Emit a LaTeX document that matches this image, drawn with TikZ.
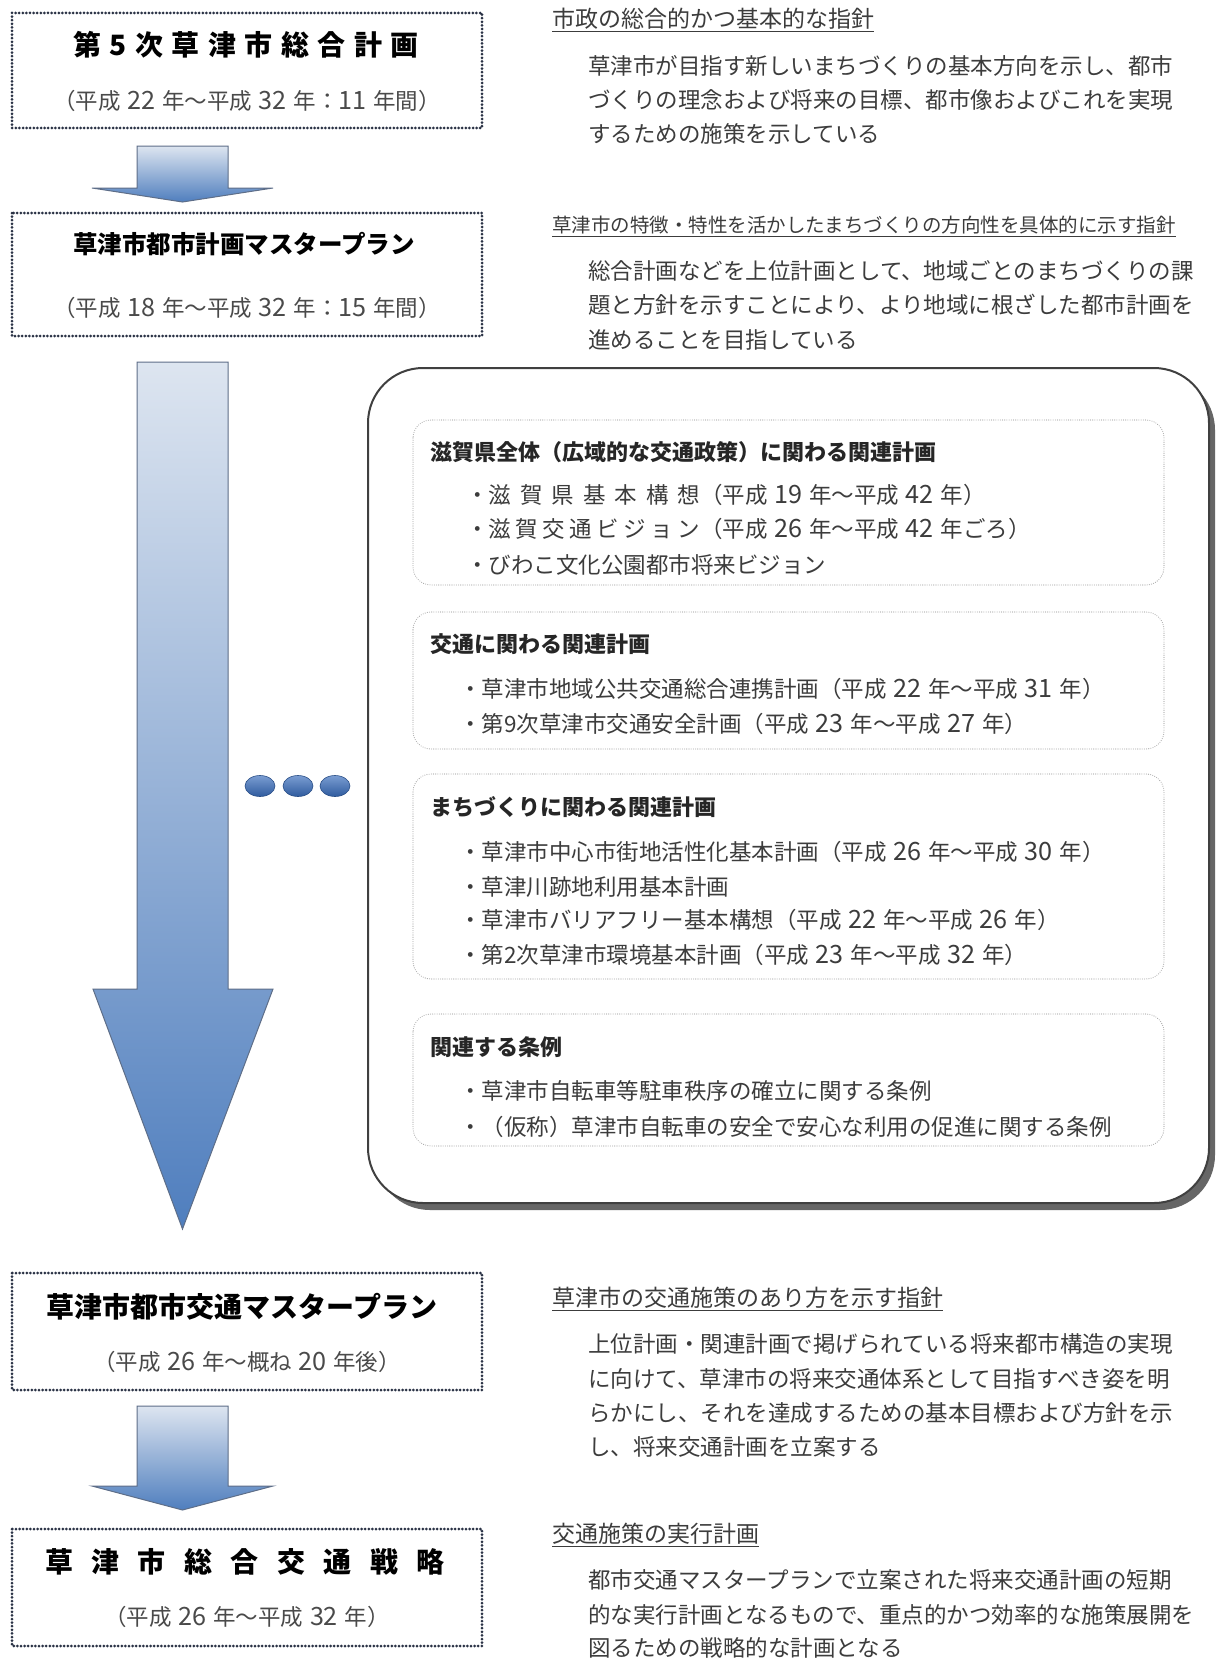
\documentclass[tikz,border=0pt]{standalone}
\usepackage{fontspec}
\usepackage{graphicx}
\setmainfont{Noto Sans CJK JP}
\usetikzlibrary{calc}
\definecolor{txt}{HTML}{3C3C3C}
\definecolor{subc}{HTML}{4A4A4A}
\definecolor{dotc}{HTML}{2A3245}
\definecolor{arrtop}{HTML}{DDE5F0}
\definecolor{arrbot}{HTML}{4F7EBE}
\definecolor{arrline}{HTML}{5E6E88}
\definecolor{dottop}{HTML}{7A9DD2}
\definecolor{dotbot}{HTML}{2F5B9E}
\newcommand\fbody{\fontsize{22.5}{27}\selectfont}
\newcommand\fhead{\fontsize{23}{27}\selectfont}
\newcommand\fheadsm{\fontsize{19.5}{23}\selectfont}
\newcommand\fsub{\fontsize{22.5}{26}\selectfont}
\newcommand\fitem{\fontsize{22.5}{27}\selectfont}
\newcommand\fboxttl{\fontsize{22}{26}\selectfont}
\newcommand\nm[1]{\hspace{0.3em}\scalebox{1.12}{#1}\hspace{0.3em}}
\newcommand\nmr[1]{\scalebox{1.12}{#1}\hspace{0.3em}}
\begin{document}
\begin{tikzpicture}[x=1pt,y=-1pt,
  tx/.style={anchor=west, inner sep=0pt, text=txt, font=\fbody},
  hd/.style={anchor=west, inner sep=0pt, text=txt, font=\fhead},
  ttl/.style={inner sep=0pt, text=black},
  sub/.style={inner sep=0pt, text=subc, font=\fsub},
  itm/.style={anchor=west, inner sep=0pt, text=txt, font=\fitem},
  rttl/.style={anchor=west, inner sep=0pt, text=black!85, font=\bfseries\fboxttl},
  planbox/.style={draw=dotc, line width=3pt, dash pattern=on 0pt off 3.6pt, line cap=round},
  relbox/.style={draw=black!35, line width=1.1pt, dash pattern=on 0pt off 2.2pt, line cap=round, rounded corners=18pt, fill=white},
  blkarrow/.style={draw=arrline, line width=1pt, top color=arrtop, bottom color=arrbot},
  dotball/.style={draw=dotbot!85!black, line width=0.6pt, top color=dottop, bottom color=dotbot},
  uline/.style={draw=txt, line width=1.1pt}
]
\useasboundingbox (0,0) rectangle (1220,1659);
\fill[white] (0,0) rectangle (1220,1659);

% ---------- left plan boxes ----------
\path[planbox] (12,13) rectangle (482,128);
\node[ttl, font=\bfseries\fontsize{28}{32}\selectfont] (t1) at (246,45)
  {\makebox[345pt]{第\hfill 5\hfill 次\hfill 草\hfill 津\hfill 市\hfill 総\hfill 合\hfill 計\hfill 画}};
\node[sub] (s1) at (247,101) {（平成\nm{22}年～平成\nm{32}年：\nmr{11}年間）};

\path[planbox] (12,213) rectangle (482,336);
\node[ttl, font=\bfseries\fontsize{24.5}{28}\selectfont] (t2) at (244,244) {草津市都市計画マスタープラン};
\node[sub] (s2) at (247,308) {（平成\nm{18}年～平成\nm{32}年：\nmr{15}年間）};

\path[planbox] (12,1273) rectangle (482,1390);
\node[ttl, font=\bfseries\fontsize{28}{32}\selectfont] (t3) at (242,1307) {草津市都市交通マスタープラン};
\node[sub] (s3) at (247,1362) {（平成\nm{26}年～概ね\nm{20}年後）};

\path[planbox] (12,1529) rectangle (482,1646);
\node[ttl, font=\bfseries\fontsize{28}{32}\selectfont] (t4) at (245,1562)
  {\makebox[400pt]{草\hfill 津\hfill 市\hfill 総\hfill 合\hfill 交\hfill 通\hfill 戦\hfill 略}};
\node[sub] (s4) at (247,1617) {（平成\nm{26}年～平成\nm{32}年）};

% ---------- block arrows ----------
\path[blkarrow] (137,146) -- (228,146) -- (228,188) -- (273,188) -- (182.5,202) -- (92,188) -- (137,188) -- cycle;
\path[blkarrow] (137,362) -- (228,362) -- (228,989) -- (273,989) -- (182.5,1229) -- (93,989) -- (137,989) -- cycle;
\path[blkarrow] (137,1406) -- (228,1406) -- (228,1486) -- (273,1486) -- (182.5,1510) -- (92,1486) -- (137,1486) -- cycle;

% ---------- dots ----------
\path[dotball] (260,786) ellipse [x radius=15pt, y radius=10.5pt];
\path[dotball] (298,786) ellipse [x radius=15pt, y radius=10.5pt];
\path[dotball] (335,786) ellipse [x radius=15pt, y radius=10.5pt];

% ---------- big container ----------
\fill[black!60, rounded corners=55pt] (375,375) rectangle (1215,1210);
\draw[black!75, line width=2pt, fill=white, rounded corners=55pt] (368,368) rectangle (1209,1203);

% box A
\path[relbox] (413,420) rectangle (1164,585);
\node[rttl] (ta) at (430,452) {滋賀県全体（広域的な交通政策）に関わる関連計画};
\node[itm] (a1) at (466,495) {・\makebox[9.4em]{滋\hfill 賀\hfill 県\hfill 基\hfill 本\hfill 構\hfill 想}（平成\nm{19}年～平成\nm{42}年）};
\node[itm] (a2) at (466,529) {・\makebox[9.4em]{滋\hfill 賀\hfill 交\hfill 通\hfill ビ\hfill ジ\hfill ョ\hfill ン}（平成\nm{26}年～平成\nm{42}年ごろ）};
\node[itm] (a3) at (466,565) {・びわこ文化公園都市将来ビジョン};

% box B
\path[relbox] (413,612) rectangle (1164,749);
\node[rttl] (tb) at (430,644) {交通に関わる関連計画};
\node[itm] (b1) at (459,689) {・草津市地域公共交通総合連携計画（平成\nm{22}年～平成\nm{31}年）};
\node[itm] (b2) at (459,724) {・第9次草津市交通安全計画（平成\nm{23}年～平成\nm{27}年）};

% box C
\path[relbox] (413,774) rectangle (1164,979);
\node[rttl] (tc) at (430,807) {まちづくりに関わる関連計画};
\node[itm] (c1) at (459,852) {・草津市中心市街地活性化基本計画（平成\nm{26}年～平成\nm{30}年）};
\node[itm] (c2) at (459,887) {・草津川跡地利用基本計画};
\node[itm] (c3) at (459,920) {・草津市バリアフリー基本構想（平成\nm{22}年～平成\nm{26}年）};
\node[itm] (c4) at (459,955) {・第2次草津市環境基本計画（平成\nm{23}年～平成\nm{32}年）};

% box D
\path[relbox] (413,1014) rectangle (1164,1146);
\node[rttl] (td) at (430,1047) {関連する条例};
\node[itm] (d1) at (459,1091) {・草津市自転車等駐車秩序の確立に関する条例};
\node[itm] (d2) at (459,1127) {・（仮称）草津市自転車の安全で安心な利用の促進に関する条例};

% ---------- right-hand descriptions ----------
\node[hd] (h1) at (552,19) {市政の総合的かつ基本的な指針};
\draw[uline] ([yshift=-2pt]h1.south west) -- ([yshift=-2pt]h1.south east);
\node[tx] (l11) at (588,66) {草津市が目指す新しいまちづくりの基本方向を示し、都市};
\node[tx] (l12) at (588,100) {づくりの理念および将来の目標、都市像およびこれを実現};
\node[tx] (l13) at (588,134) {するための施策を示している};

\node[hd, font=\fheadsm] (h2) at (552,225) {草津市の特徴・特性を活かしたまちづくりの方向性を具体的に示す指針};
\draw[uline] ([yshift=-2pt]h2.south west) -- ([yshift=-2pt]h2.south east);
\node[tx] (l21) at (588,271) {総合計画などを上位計画として、地域ごとのまちづくりの課};
\node[tx] (l22) at (588,305) {題と方針を示すことにより、より地域に根ざした都市計画を};
\node[tx] (l23) at (588,340) {進めることを目指している};

\node[hd] (h3) at (552,1298) {草津市の交通施策のあり方を示す指針};
\draw[uline] ([yshift=-2pt]h3.south west) -- ([yshift=-2pt]h3.south east);
\node[tx] (l31) at (588,1344) {上位計画・関連計画で掲げられている将来都市構造の実現};
\node[tx] (l32) at (588,1379) {に向けて、草津市の将来交通体系として目指すべき姿を明};
\node[tx] (l33) at (588,1413) {らかにし、それを達成するための基本目標および方針を示};
\node[tx] (l34) at (588,1447) {し、将来交通計画を立案する};

\node[hd] (h4) at (552,1534) {交通施策の実行計画};
\draw[uline] ([yshift=-2pt]h4.south west) -- ([yshift=-2pt]h4.south east);
\node[tx] (l41) at (588,1580) {都市交通マスタープランで立案された将来交通計画の短期};
\node[tx] (l42) at (588,1615) {的な実行計画となるもので、重点的かつ効率的な施策展開を};
\node[tx] (l43) at (588,1648) {図るための戦略的な計画となる};
\end{tikzpicture}
\end{document}
